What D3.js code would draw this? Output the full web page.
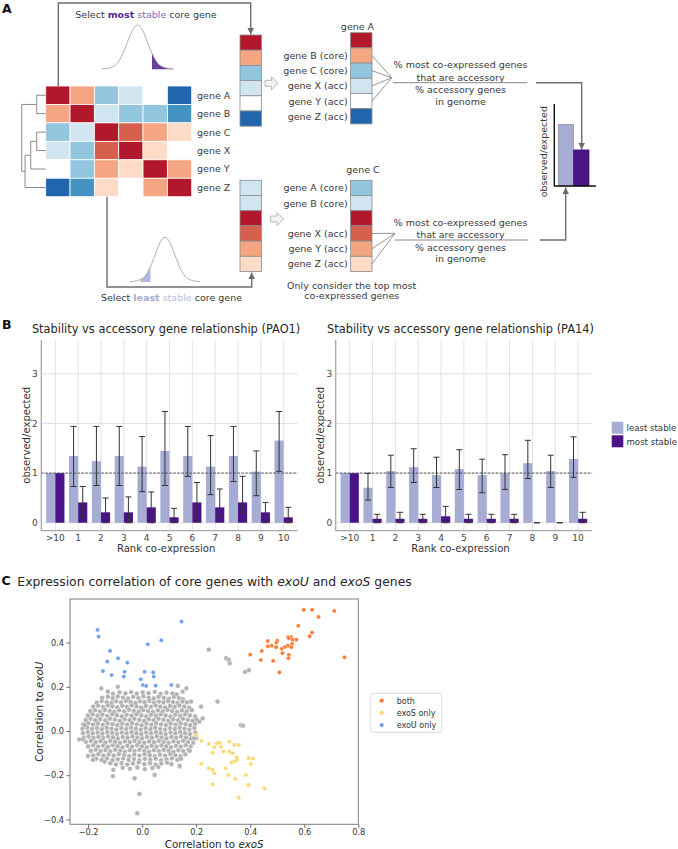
<!DOCTYPE html>
<html>
<head>
<meta charset="utf-8">
<script src="https://cdn.jsdelivr.net/npm/d3@7"></script>
<style>
body { margin: 0; background: #fff; }
svg text { font-family: "DejaVu Sans", sans-serif; }
.plabel { font-weight: bold; font-size: 12.5px; fill: #111; }
</style>
</head>
<body>
<div id="fig"></div>
<script>
// ---------------- data: panel A (schematic) ----------------
var genes = ["A", "B", "C", "X", "Y", "Z"];
var heatRows = [
    [1, 0.45, -0.45, -0.2, 0, -1],
    [0.45, 1, -0.2, -0.45, -0.45, -0.7],
    [-0.45, -0.2, 1, 0.7, 0.45, 0.2],
    [-0.2, -0.45, 0.7, 1, 0.2, 0],
    [0, -0.45, 0.45, 0.2, 1, 0.45],
    [-1, -0.7, 0.2, 0, 0.45, 1]
];
var colTopRaw = [1, 0.45, -0.45, -0.2, 0, -1];
var colTopSorted = [1, 0.45, -0.45, -0.2, 0, -1];
var colBotRaw = [-0.2, -0.2, 1, 0.7, 0.45, 0.2];
var colBotSorted = [-0.45, -0.2, 1, 0.7, 0.45, 0.2];
var topLabels = ["", "gene B (core)", "gene C (core)", "gene X (acc)", "gene Y (acc)", "gene Z (acc)"];
var botLabels = ["gene A (core)", "gene B (core)", "", "gene X (acc)", "gene Y (acc)", "gene Z (acc)"];
var topLinked = [1, 2, 3, 4];
var botLinked = [3, 4, 5];
var dendroMerges = [
    {id: "AB", a: "A", b: "B", h: 0.375},
    {id: "CX", a: "C", b: "X", h: 0.375},
    {id: "CXY", a: "CX", b: "Y", h: 0.625},
    {id: "CXYZ", a: "CXY", b: "Z", h: 0.86},
    {id: "root", a: "AB", b: "CXYZ", h: 1}
];
var bellCurve = [0.01, 0.02, 0.05, 0.13, 0.32, 0.6, 0.88, 1, 0.88, 0.6, 0.32, 0.13, 0.05, 0.02, 0.01];
var miniVals = [0.75, 0.44];

// ---------------- data: panel B ----------------
var rankCats = [">10", "1", "2", "3", "4", "5", "6", "7", "8", "9", "10"];
var pao1Least   = [1.0, 1.345, 1.24, 1.345, 1.13, 1.446, 1.345, 1.13, 1.345, 1.03, 1.655];
var pao1LeastLo = [null, 0.73, 0.75, 0.75, 0.625, 0.75, 0.935, 0.565, 0.83, 0.545, 1.035];
var pao1LeastHi = [null, 1.94, 1.94, 1.94, 1.735, 2.24, 1.94, 1.755, 1.94, 1.446, 2.24];
var pao1Most    = [1.0, 0.41, 0.21, 0.21, 0.31, 0.11, 0.41, 0.31, 0.41, 0.21, 0.11];
var pao1MostLo  = [null, 0.11, 0, 0, 0, 0, 0.02, 0.11, 0.21, 0, 0];
var pao1MostHi  = [null, 0.73, 0.5, 0.52, 0.62, 0.29, 0.81, 0.68, 0.935, 0.41, 0.31];
var pa14Least   = [1.0, 0.706, 1.04, 1.12, 0.96, 1.08, 0.96, 0.995, 1.2, 1.04, 1.285];
var pa14LeastLo = [null, 0.457, 0.71, 0.81, 0.71, 0.67, 0.605, 0.67, 0.89, 0.71, 0.915];
var pa14LeastHi = [null, 0.995, 1.36, 1.49, 1.32, 1.47, 1.28, 1.37, 1.66, 1.36, 1.73];
var pa14Most    = [1.0, 0.08, 0.08, 0.08, 0.13, 0.08, 0.08, 0.08, 0, 0, 0.08];
var pa14MostLo  = [null, 0, 0, 0, 0, 0, 0, 0, 0, 0, 0];
var pa14MostHi  = [null, 0.17, 0.21, 0.17, 0.33, 0.17, 0.17, 0.17, 0, 0, 0.21];
var stabTicks = [0, 1, 2, 3];

// ---------------- data: panel C ----------------
var bothPts = [[.598,.548],[.629,.548],[.711,.543],[.653,.516],[.578,.476],[.629,.445],[.62,.428],[.465,.407],[.5,.409],[.497,.4],[.54,.425],[.551,.425],[.543,.419],[.557,.413],[.571,.413],[.555,.394],[.552,.379],[.539,.386],[.528,.38],[.517,.372],[.496,.379],[.479,.386],[.465,.383],[.443,.362],[.4,.345],[.519,.352],[.543,.344],[.541,.329],[.439,.321],[.485,.317],[.508,.265],[.749,.333]];
var exoSPts = [[.2,-.018],[.219,-.045],[.247,-.059],[.276,-.056],[.286,-.053],[.292,-.071],[.267,-.074],[.323,-.048],[.341,-.063],[.358,-.063],[.261,-.098],[.301,-.093],[.323,-.093],[.335,-.101],[.35,-.119],[.341,-.138],[.33,-.143],[.35,-.132],[.394,-.123],[.41,-.125],[.402,-.149],[.219,-.149],[.246,-.169],[.31,-.169],[.261,-.176],[.267,-.191],[.318,-.199],[.384,-.199],[.345,-.217],[.261,-.241],[.394,-.244],[.453,-.26],[.358,-.301]];
var exoUPts = [[-.165,.457],[-.161,.427],[-.119,.362],[-.089,.329],[-.129,.314],[-.055,.309],[-.145,.271],[-.113,.253],[-.065,.268],[-.068,.246],[.009,.268],[.041,.265],[.043,.246],[-.005,.234],[.003,.208],[.015,.204],[.05,.205],[.108,.208],[.021,.392],[.071,.41],[.146,.495]];
var grayPts = [
    [-.108,.168],[-.084,.175],[-.062,.17],[-.041,.176],[-.02,.169],[.002,.174],[.024,.171],[.047,.177],[.068,.168],[.09,.173],[.112,.17],[.128,.166],
    [-.148,.15],[-.127,.155],[-.109,.148],[-.09,.156],[-.071,.151],[-.052,.147],[-.033,.154],[-.014,.149],[.005,.156],[.024,.15],[.043,.147],[.061,.155],[.08,.15],[.099,.146],[.117,.154],[.136,.149],[.151,.144],
    [-.168,.128],[-.15,.135],[-.131,.13],[-.113,.127],[-.096,.134],[-.078,.129],[-.06,.136],[-.043,.131],[-.025,.127],[-.008,.134],[.009,.13],[.027,.136],[.044,.128],[.062,.133],[.079,.129],[.096,.135],[.114,.131],[.131,.127],[.149,.133],[.166,.129],
    [-.181,.11],[-.163,.114],[-.145,.108],[-.127,.115],[-.11,.111],[-.092,.107],[-.074,.114],[-.057,.109],[-.039,.116],[-.021,.111],[-.004,.106],[.014,.113],[.032,.109],[.05,.115],[.067,.11],[.085,.106],[.103,.113],[.12,.109],[.138,.115],[.156,.11],[.174,.106],
    [-.192,.09],[-.174,.094],[-.156,.088],[-.138,.095],[-.12,.091],[-.103,.086],[-.085,.093],[-.067,.089],[-.049,.096],[-.031,.091],[-.013,.087],[.004,.094],[.022,.09],[.04,.086],[.058,.093],[.076,.089],[.094,.095],[.111,.09],[.129,.086],[.147,.093],[.165,.089],[.184,.094],
    [-.201,.07],[-.183,.075],[-.165,.069],[-.147,.074],[-.129,.068],[-.111,.075],[-.093,.071],[-.075,.066],[-.057,.073],[-.039,.069],[-.021,.075],[-.003,.07],[.015,.066],[.033,.073],[.051,.069],[.069,.075],[.087,.07],[.105,.066],[.123,.073],[.141,.069],[.159,.075],[.177,.07],[.196,.066],
    [-.209,.05],[-.191,.055],[-.173,.049],[-.155,.054],[-.137,.048],[-.119,.055],[-.101,.051],[-.083,.046],[-.065,.053],[-.047,.049],[-.029,.055],[-.011,.05],[.007,.046],[.025,.053],[.043,.049],[.061,.055],[.079,.05],[.097,.046],[.115,.053],[.133,.049],[.151,.055],[.169,.05],[.187,.046],[.201,.053],
    [-.218,.03],[-.2,.035],[-.182,.029],[-.164,.034],[-.146,.028],[-.128,.035],[-.11,.031],[-.092,.026],[-.074,.033],[-.056,.029],[-.038,.035],[-.02,.03],[-.002,.026],[.016,.033],[.034,.029],[.052,.035],[.07,.03],[.088,.026],[.106,.033],[.124,.029],[.142,.035],[.16,.03],[.178,.026],[.196,.032],
    [-.221,.01],[-.203,.015],[-.185,.009],[-.167,.014],[-.149,.008],[-.131,.015],[-.113,.011],[-.095,.006],[-.077,.013],[-.059,.009],[-.041,.015],[-.023,.01],[-.005,.006],[.013,.013],[.031,.009],[.049,.015],[.067,.01],[.085,.006],[.103,.013],[.121,.009],[.139,.015],[.157,.01],[.175,.006],[.193,.013],
    [-.219,-.01],[-.201,-.005],[-.183,-.011],[-.165,-.006],[-.147,-.012],[-.129,-.005],[-.111,-.009],[-.093,-.014],[-.075,-.007],[-.057,-.011],[-.039,-.005],[-.021,-.01],[-.003,-.014],[.015,-.007],[.033,-.011],[.051,-.005],[.069,-.01],[.087,-.014],[.105,-.007],[.123,-.011],[.141,-.005],[.159,-.01],[.177,-.014],[.197,-.007],
    [-.216,-.03],[-.198,-.025],[-.18,-.031],[-.162,-.026],[-.144,-.032],[-.126,-.025],[-.108,-.029],[-.09,-.034],[-.072,-.027],[-.054,-.031],[-.036,-.025],[-.018,-.03],[0,-.034],[.018,-.027],[.036,-.031],[.054,-.025],[.072,-.03],[.09,-.034],[.108,-.027],[.126,-.031],[.144,-.025],[.162,-.03],[.18,-.034],[.195,-.027],
    [-.208,-.05],[-.19,-.045],[-.172,-.051],[-.154,-.046],[-.136,-.052],[-.118,-.045],[-.1,-.049],[-.082,-.054],[-.064,-.047],[-.046,-.051],[-.028,-.045],[-.01,-.05],[.008,-.054],[.026,-.047],[.044,-.051],[.062,-.045],[.08,-.05],[.098,-.054],[.116,-.047],[.134,-.051],[.152,-.045],[.17,-.05],[.189,-.054],
    [-.199,-.07],[-.181,-.065],[-.163,-.071],[-.145,-.066],[-.127,-.072],[-.109,-.065],[-.091,-.069],[-.073,-.074],[-.055,-.067],[-.037,-.071],[-.019,-.065],[-.001,-.07],[.017,-.074],[.035,-.067],[.053,-.071],[.071,-.065],[.089,-.07],[.107,-.074],[.125,-.067],[.143,-.071],[.161,-.065],[.18,-.07],
    [-.19,-.09],[-.172,-.085],[-.154,-.091],[-.136,-.086],[-.118,-.092],[-.1,-.085],[-.082,-.089],[-.064,-.094],[-.046,-.087],[-.028,-.091],[-.01,-.085],[.008,-.09],[.026,-.094],[.044,-.087],[.062,-.091],[.08,-.085],[.098,-.09],[.116,-.094],[.134,-.087],[.152,-.091],[.171,-.085],
    [-.181,-.11],[-.162,-.105],[-.143,-.111],[-.124,-.106],[-.105,-.112],[-.086,-.105],[-.067,-.109],[-.048,-.114],[-.029,-.107],[-.01,-.111],[.009,-.105],[.028,-.11],[.047,-.114],[.066,-.107],[.085,-.111],[.104,-.105],[.123,-.11],[.142,-.114],[.16,-.106],
    [-.17,-.126],[-.15,-.131],[-.13,-.125],[-.11,-.132],[-.09,-.128],[-.07,-.124],[-.05,-.131],[-.03,-.127],[-.01,-.133],[.01,-.126],[.03,-.13],[.05,-.125],[.07,-.132],[.09,-.128],[.11,-.124],[.13,-.131],[.144,-.126],
    [-.118,-.146],[-.097,-.151],[-.076,-.145],[-.055,-.152],[-.034,-.147],[-.013,-.143],[.008,-.15],[.029,-.146],[.05,-.152],[.071,-.147],[.092,-.143],[.108,-.15],
    [-.072,-.166],[-.045,-.171],[-.018,-.165],[.01,-.172],[.038,-.167],[.06,-.163],
    [-.151,.193],[-.09,.2],[-.127,.178],[.132,.204],[.15,.178],[.164,.193],[.181,.133],[.218,.11],[.224,.057],[.212,.042],[.279,.133],[.365,.027],[.373,.024],
    [.2,-.033],[.192,-.033],[.176,-.09],[-.213,.027],[-.219,-.038],[-.233,-.038],[-.2,-.071],[-.2,-.113],[-.182,-.131],[-.139,-.139],[-.107,-.176],
    [-.108,-.204],[-.028,-.214],[-.01,-.285],[.046,-.199],[.138,-.161],[.139,-.158],[-.018,-.372],
    [.247,.368],[.311,.329],[.321,.321],[.324,.306],[.381,.267],[.395,.275]
];
var corrXTicks = [-0.2, 0, 0.2, 0.4, 0.6, 0.8];
var corrYTicks = [-0.4, -0.2, 0, 0.2, 0.4];
var groupNames = ["both", "exoS only", "exoU only"];
var groupColors = ["#fb7b37", "#fdd670", "#6f9ef2"];

// ---------------- svg ----------------
var svg = d3.select("#fig").append("svg")
    .attr("width", 678)
    .attr("height", 849);

svg.append("defs").append("marker")
    .attr("id", "arr")
    .attr("viewBox", "0 0 10 10")
    .attr("refX", 10)
    .attr("refY", 5)
    .attr("markerWidth", 6.5)
    .attr("markerHeight", 6.5)
    .attr("markerUnits", "userSpaceOnUse")
    .attr("orient", "auto")
    .append("path")
    .attr("d", "M0,0L10,5L0,10z")
    .attr("fill", "#6a6a6a");

var heatColor = d3.scaleThreshold()
    .domain([-0.85, -0.6, -0.3, -0.1, 0.1, 0.3, 0.6, 0.85])
    .range(["#2166ac", "#4393c3", "#92c5de", "#d1e5f0", "#ffffff", "#fddbc7", "#f4a582", "#d6604d", "#b2182b"]);

var textCol = "#3a3a3a";
var lineCol = "#6e6e6e";

/*
 * Panel A
 */
var A = svg.append("g");
A.append("text").attr("class", "plabel").attr("x", 2).attr("y", 12.7).text("A");

// heatmap
var hx = d3.scaleBand().domain(d3.range(6)).range([45.7, 191.7]);
var hy = d3.scaleBand().domain(genes).range([86, 196.7]);

heatRows.forEach(function(row, i){
    A.selectAll(null).data(row).enter().append("rect")
        .attr("x", function(d, j){ return hx(j); })
        .attr("y", hy(genes[i]))
        .attr("width", hx.bandwidth())
        .attr("height", hy.bandwidth())
        .attr("fill", function(d){ return heatColor(d); })
        .attr("stroke", "#fff")
        .attr("stroke-width", 0.8);
});
A.selectAll(".glab").data(genes).enter().append("text")
    .attr("class", "glab")
    .attr("x", 197)
    .attr("y", function(d){ return hy(d) + hy.bandwidth() / 2 + 3.4; })
    .style("font-size", "9.5px")
    .style("fill", textCol)
    .text(function(d){ return "gene " + d; });

// dendrogram
var dx = d3.scaleLinear().domain([0, 1]).range([45.7, 21.7]);
var nodePos = {};
genes.forEach(function(g){ nodePos[g] = {y: hy(g) + hy.bandwidth() / 2, h: 0}; });
dendroMerges.forEach(function(m){
    var a = nodePos[m.a], b = nodePos[m.b];
    A.append("path")
        .attr("d", "M" + dx(a.h) + "," + a.y + "H" + dx(m.h) + "V" + b.y + "H" + dx(b.h))
        .attr("fill", "none")
        .attr("stroke", "#8a8a8a")
        .attr("stroke-width", 1);
    nodePos[m.id] = {y: (a.y + b.y) / 2, h: m.h};
});

// bell curves
function drawBell(x0, x1, base, peak, s0, s1, fill, id){
    var bx = d3.scaleLinear().domain([0, bellCurve.length - 1]).range([x0, x1]);
    var by = d3.scaleLinear().domain([0, 1]).range([base, peak]);
    var area = d3.area().x(function(d, i){ return bx(i); }).y0(base).y1(function(d){ return by(d); }).curve(d3.curveMonotoneX);
    var line = d3.line().x(function(d, i){ return bx(i); }).y(function(d){ return by(d); }).curve(d3.curveMonotoneX);
    A.append("clipPath").attr("id", id).append("rect")
        .attr("x", s0).attr("y", peak - 2).attr("width", s1 - s0).attr("height", base - peak + 4);
    A.append("path").attr("d", area(bellCurve)).attr("fill", fill).attr("clip-path", "url(#" + id + ")");
    A.append("path").attr("d", line(bellCurve)).attr("fill", "none").attr("stroke", "#9c9c9c").attr("stroke-width", 0.8);
}
drawBell(101.7, 173.3, 69.3, 25, 152, 174, "#6a3fa0", "clipTop");
drawBell(130, 200, 282, 237.3, 140.5, 150.5, "#b4b8df", "clipBot");

// titles for selection
var t1 = A.append("text").attr("x", 146).attr("y", 17.5).attr("text-anchor", "middle")
    .style("font-size", "9.5px").style("fill", textCol);
t1.append("tspan").text("Select ");
t1.append("tspan").style("font-weight", "bold").style("fill", "#54278f").text("most");
t1.append("tspan").style("fill", "#8466bd").text(" stable");
t1.append("tspan").text(" core gene");

var t2 = A.append("text").attr("x", 171.5).attr("y", 300.5).attr("text-anchor", "middle")
    .style("font-size", "9.5px").style("fill", textCol);
t2.append("tspan").text("Select ");
t2.append("tspan").style("font-weight", "bold").style("fill", "#a3aad6").text("least");
t2.append("tspan").style("fill", "#b9bde3").text(" stable");
t2.append("tspan").text(" core gene");

// bracket lines
A.append("path").attr("d", "M58.3,86V3H250.7V34.5")
    .attr("fill", "none").attr("stroke", lineCol).attr("stroke-width", 1.4).attr("marker-end", "url(#arr)");
A.append("path").attr("d", "M107,196.7V287H251.7V272.5")
    .attr("fill", "none").attr("stroke", lineCol).attr("stroke-width", 1.4).attr("marker-end", "url(#arr)");

// columns of correlation values
function drawColumn(x, y0, vals){
    var cy = d3.scaleBand().domain(d3.range(vals.length)).range([y0, y0 + 15.2 * vals.length]);
    A.selectAll(null).data(vals).enter().append("rect")
        .attr("x", x)
        .attr("y", function(d, i){ return cy(i); })
        .attr("width", 21.5)
        .attr("height", cy.bandwidth())
        .attr("fill", function(d){ return heatColor(d); })
        .attr("stroke", "#8c8c8c")
        .attr("stroke-width", 0.8);
    return cy;
}
drawColumn(240, 35, colTopRaw);
var cyTop = drawColumn(350.5, 32.7, colTopSorted);
drawColumn(240, 180.3, colBotRaw);
var cyBot = drawColumn(350.5, 180.3, colBotSorted);

function columnLabels(labels, cy){
    A.selectAll(null).data(labels).enter().append("text")
        .attr("x", 347.7)
        .attr("y", function(d, i){ return cy(i) + cy.bandwidth() / 2 + 3.4; })
        .attr("text-anchor", "end")
        .style("font-size", "9.5px")
        .style("fill", textCol)
        .text(function(d){ return d; });
}
columnLabels(topLabels, cyTop);
columnLabels(botLabels, cyBot);
A.append("text").attr("x", 357.5).attr("y", 30).attr("text-anchor", "middle")
    .style("font-size", "9.5px").style("fill", textCol).text("gene A");
A.append("text").attr("x", 363).attr("y", 172.7).attr("text-anchor", "middle")
    .style("font-size", "9.5px").style("fill", textCol).text("gene C");

// link lines to fraction
function linkLines(rows, cy, px, py){
    A.selectAll(null).data(rows).enter().append("line")
        .attr("x1", 372).attr("y1", function(d){ return cy(d) + cy.bandwidth() / 2; })
        .attr("x2", px).attr("y2", py)
        .attr("stroke", "#7a7a7a").attr("stroke-width", 0.8);
}
linkLines(topLinked, cyTop, 391.7, 77.7);
linkLines(botLinked, cyBot, 395, 233.3);

// hollow block arrows
function blockArrow(x0, cy){
    A.append("path")
        .attr("d", "M" + x0 + "," + (cy - 3) + "h6.5v-3.5l6.5,6.5l-6.5,6.5v-3.5h-6.5z")
        .attr("fill", "#f3f3f3").attr("stroke", "#a4a4a4").attr("stroke-width", 0.8);
}
blockArrow(265, 83.3);
blockArrow(270.5, 219);

// fractions
function fraction(cx, ys, barY, x0, x1){
    var lines = ["% most co-expressed genes", "that are accessory", "% accessory genes", "in genome"];
    A.selectAll(null).data(lines).enter().append("text")
        .attr("x", cx)
        .attr("y", function(d, i){ return ys[i] + 3.4; })
        .attr("text-anchor", "middle")
        .style("font-size", "9.5px").style("fill", textCol)
        .text(function(d){ return d; });
    A.append("line").attr("x1", x0).attr("x2", x1).attr("y1", barY).attr("y2", barY)
        .attr("stroke", "#8a8a8a").attr("stroke-width", 1);
}
fraction(460.5, [65, 77.3, 90, 101.7], 82.7, 393, 527.3);
fraction(460.5, [222.7, 235, 247.3, 258.3], 240, 395, 528.3);

A.append("path").attr("d", "M536,82.7H581.7V149.5")
    .attr("fill", "none").attr("stroke", lineCol).attr("stroke-width", 1.4).attr("marker-end", "url(#arr)");
A.append("path").attr("d", "M540,240H565.7V187.5")
    .attr("fill", "none").attr("stroke", lineCol).attr("stroke-width", 1.4).attr("marker-end", "url(#arr)");

// mini bar chart
var mx = d3.scaleBand().domain([0, 1]).range([558.3, 589]);
var my = d3.scaleLinear().domain([0, 1]).range([186, 104]);
A.selectAll(".mbar").data(miniVals).enter().append("rect")
    .attr("class", "mbar")
    .attr("x", function(d, i){ return mx(i); })
    .attr("y", function(d){ return my(d); })
    .attr("width", mx.bandwidth())
    .attr("height", function(d){ return 186 - my(d); })
    .attr("fill", function(d, i){ return i === 0 ? "#a6acd4" : "#4a1486"; })
    .attr("stroke", function(d, i){ return i === 0 ? "#8a8a9a" : "#3a1070"; })
    .attr("stroke-width", 0.7);
A.append("path").attr("d", "M554.3,104V186H596")
    .attr("fill", "none").attr("stroke", "#111").attr("stroke-width", 1.4);
A.append("text").attr("transform", "translate(546.5,151.7) rotate(-90)")
    .attr("text-anchor", "middle").style("font-size", "9.5px").style("fill", textCol)
    .text("observed/expected");

A.append("text").attr("x", 351.7).attr("y", 288.7).attr("text-anchor", "middle")
    .style("font-size", "9.5px").style("fill", textCol).text("Only consider the top most");
A.append("text").attr("x", 351.7).attr("y", 298.7).attr("text-anchor", "middle")
    .style("font-size", "9.5px").style("fill", textCol).text("co-expressed genes");

/*
 * Panel B
 */
svg.append("text").attr("class", "plabel").attr("x", 2).attr("y", 329.3).text("B");

var leastCol = "#a6acd4";
var mostCol = "#4a1486";
var by = d3.scaleLinear().domain([-0.16, 3.68]).range([530.7, 340]);

function drawRankPanel(x0, least, leastLo, leastHi, most, mostLo, mostHi, title){
    var g = svg.append("g");
    var x1 = x0 + 256.4;
    var bx = d3.scaleBand().domain(rankCats).range([x0 + 2.6, x1 - 2.6]);
    var hue = d3.scaleBand().domain(["least", "most"]).range([bx.bandwidth() * 0.1, bx.bandwidth() * 0.9]);

    // grid
    g.selectAll(".hg").data(stabTicks).enter().append("line")
        .attr("x1", x0).attr("x2", x1)
        .attr("y1", function(d){ return by(d); }).attr("y2", function(d){ return by(d); })
        .attr("stroke", "#e2e2e2").attr("stroke-width", 1);
    g.selectAll(".vg").data(rankCats).enter().append("line")
        .attr("x1", function(d){ return bx(d) + bx.bandwidth() / 2; })
        .attr("x2", function(d){ return bx(d) + bx.bandwidth() / 2; })
        .attr("y1", 340).attr("y2", 530.7)
        .attr("stroke", "#e2e2e2").attr("stroke-width", 1);

    var series = [
        {key: "least", vals: least, lo: leastLo, hi: leastHi, col: leastCol},
        {key: "most", vals: most, lo: mostLo, hi: mostHi, col: mostCol}
    ];
    series.forEach(function(s){
        g.selectAll(null).data(s.vals).enter().append("rect")
            .attr("x", function(d, i){ return bx(rankCats[i]) + hue(s.key); })
            .attr("y", function(d){ return by(d); })
            .attr("width", hue.bandwidth())
            .attr("height", function(d){ return by(0) - by(d); })
            .attr("fill", s.col);
    });

    // reference line
    g.append("line").attr("x1", x0).attr("x2", x1).attr("y1", by(1)).attr("y2", by(1))
        .attr("stroke", "#555").attr("stroke-width", 1).attr("stroke-dasharray", "2.5,1.5");

    // error bars
    series.forEach(function(s){
        s.vals.forEach(function(d, i){
            if (s.lo[i] === null) return;
            var cx = bx(rankCats[i]) + hue(s.key) + hue.bandwidth() / 2;
            var ylo = by(s.lo[i]), yhi = by(s.hi[i]);
            g.append("path")
                .attr("d", "M" + cx + "," + ylo + "V" + yhi +
                    "M" + (cx - 3) + "," + ylo + "H" + (cx + 3) +
                    "M" + (cx - 3) + "," + yhi + "H" + (cx + 3))
                .attr("fill", "none").attr("stroke", "#333").attr("stroke-width", 1);
        });
    });

    // spines
    g.append("path").attr("d", "M" + x0 + ",340V530.7H" + x1)
        .attr("fill", "none").attr("stroke", "#a8a8a8").attr("stroke-width", 1.3);

    // tick labels
    g.selectAll(".yt").data(stabTicks).enter().append("text")
        .attr("x", x0 - 3.5).attr("y", function(d){ return by(d) + 3.3; })
        .attr("text-anchor", "end").style("font-size", "9px").style("fill", "#444")
        .text(function(d){ return d; });
    g.selectAll(".xt").data(rankCats).enter().append("text")
        .attr("x", function(d){ return bx(d) + bx.bandwidth() / 2; })
        .attr("y", 540.5)
        .attr("text-anchor", "middle").style("font-size", "9px").style("fill", "#444")
        .text(function(d){ return d; });

    g.append("text").attr("x", x0 + 124.8).attr("y", 552.3).attr("text-anchor", "middle")
        .style("font-size", "10.1px").style("fill", "#333").text("Rank co-expression");
    g.append("text").attr("transform", "translate(" + (x0 - 11.5) + ",435.3) rotate(-90)")
        .attr("text-anchor", "middle").style("font-size", "10.1px").style("fill", "#333")
        .text("observed/expected");
    g.append("text").attr("x", x0 + 124.8).attr("y", 332.5).attr("text-anchor", "middle")
        .style("font-size", "11.4px").style("fill", "#262626").text(title);
}

drawRankPanel(41.3, pao1Least, pao1LeastLo, pao1LeastHi, pao1Most, pao1MostLo, pao1MostHi,
    "Stability vs accessory gene relationship (PAO1)");
drawRankPanel(335.7, pa14Least, pa14LeastLo, pa14LeastHi, pa14Most, pa14MostLo, pa14MostHi,
    "Stability vs accessory gene relationship (PA14)");

// legend B
var legB = svg.append("g");
[["least stable", leastCol], ["most stable", mostCol]].forEach(function(d, i){
    legB.append("rect").attr("x", 611.7).attr("y", 421.7 + i * 13.6)
        .attr("width", 11.6).attr("height", 12).attr("fill", d[1]);
    legB.append("text").attr("x", 626.5).attr("y", 431 + i * 13.6)
        .style("font-size", "8.6px").style("fill", "#333").text(d[0]);
});

/*
 * Panel C
 */
var C = svg.append("g");
C.append("text").attr("class", "plabel").attr("x", 1.5).attr("y", 585).text("C");
var ct = C.append("text").attr("x", 17.3).attr("y", 585.5).style("font-size", "12.4px").style("fill", "#262626");
ct.append("tspan").text("Expression correlation of core genes with ");
ct.append("tspan").style("font-style", "italic").text("exoU");
ct.append("tspan").text(" and ");
ct.append("tspan").style("font-style", "italic").text("exoS");
ct.append("tspan").text(" genes");

var sx = d3.scaleLinear().domain([-0.267, 0.8]).range([70, 358.3]);
var sy = d3.scaleLinear().domain([-0.422, 0.597]).range([824.3, 599]);

var xAxisC = d3.axisBottom(sx).tickValues(corrXTicks).tickFormat(d3.format(".1f")).tickSize(3.5).tickPadding(1.5);
var yAxisC = d3.axisLeft(sy).tickValues(corrYTicks).tickFormat(d3.format(".1f")).tickSize(3.5).tickPadding(2.5);
var gx = C.append("g").attr("transform", "translate(0,824.3)").call(xAxisC);
var gy = C.append("g").attr("transform", "translate(70,0)").call(yAxisC);
[gx, gy].forEach(function(ax){
    ax.select(".domain").remove();
    ax.selectAll("line").attr("stroke", "#666");
    ax.selectAll("text").style("font-size", "8.2px").style("fill", "#333").style("font-family", "DejaVu Sans, sans-serif");
});

function dots(pts, col, r){
    C.selectAll(null).data(pts).enter().append("circle")
        .attr("cx", function(d){ return sx(d[0]); })
        .attr("cy", function(d){ return sy(d[1]); })
        .attr("r", r)
        .attr("fill", col)
        .attr("stroke", "#fff")
        .attr("stroke-width", 0.35);
}
dots(grayPts, "#b2b2b2", 2.4);
dots(bothPts, groupColors[0], 2.1);
dots(exoSPts, groupColors[1], 2.1);
dots(exoUPts, groupColors[2], 2.1);

C.append("rect").attr("x", 70).attr("y", 599).attr("width", 288.3).attr("height", 225.3)
    .attr("fill", "none").attr("stroke", "#7f7f7f").attr("stroke-width", 1);

var xl = C.append("text").attr("x", 214.2).attr("y", 847.5).attr("text-anchor", "middle")
    .style("font-size", "10.3px").style("fill", "#262626");
xl.append("tspan").text("Correlation to ");
xl.append("tspan").style("font-style", "italic").text("exoS");
var yl = C.append("text").attr("transform", "translate(43,711.7) rotate(-90)").attr("text-anchor", "middle")
    .style("font-size", "10.3px").style("fill", "#262626");
yl.append("tspan").text("Correlation to ");
yl.append("tspan").style("font-style", "italic").text("exoU");

// legend C
C.append("rect").attr("x", 370.7).attr("y", 693.3).attr("width", 71).attr("height", 39)
    .attr("rx", 2.5).attr("fill", "#fff").attr("stroke", "#d0d0d0").attr("stroke-width", 0.8);
groupNames.forEach(function(n, i){
    C.append("circle").attr("cx", 381.7).attr("cy", 700.7 + i * 12.2).attr("r", 2.1).attr("fill", groupColors[i]);
    C.append("text").attr("x", 396.7).attr("y", 703.5 + i * 12.2)
        .style("font-size", "8px").style("fill", "#333").text(n);
});
</script>
</body>
</html>
